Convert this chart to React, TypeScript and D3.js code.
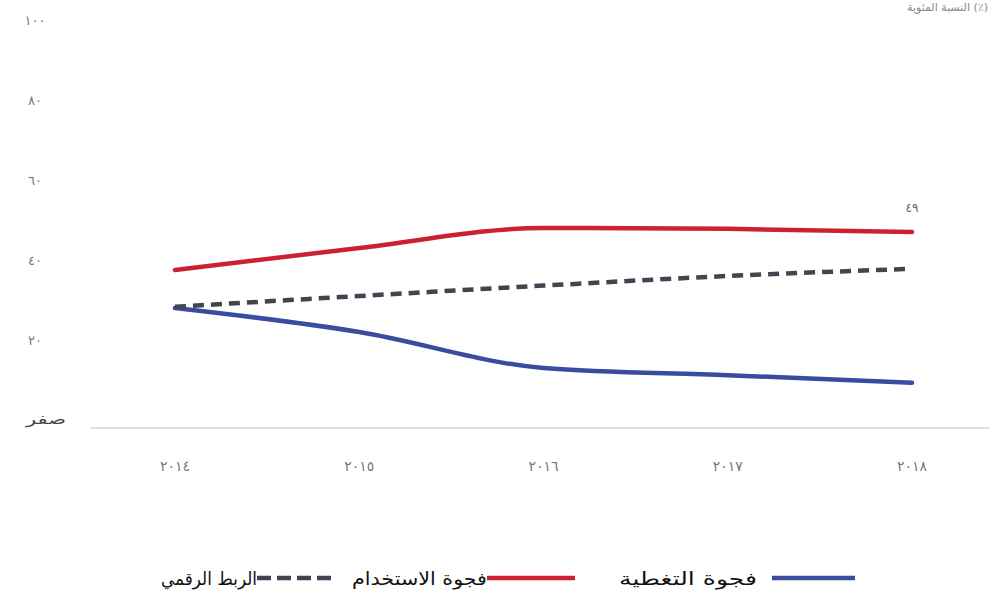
import React from "react";
import * as d3 from "d3";

const years = ["٢٠١٤", "٢٠١٥", "٢٠١٦", "٢٠١٧", "٢٠١٨"];
const yTicks = [0, 20, 40, 60, 80, 100];
const yTickLabels = ["صفر", "٢٠", "٤٠", "٦٠", "٨٠", "١٠٠"];
const coverageGap = [30, 24, 15, 13.2, 11.3];
const usageGap = [39.5, 45, 50, 49.8, 49];
const digitalLink = [30.3, 33, 35.6, 38, 39.8];
const seriesNames = ["فجوة التغطية", "فجوة الاستخدام", "الربط الرقمي"];
const endLabel = "٤٩";
const unitLabel = "النسبة المئوية (٪)";

const W = 995;
const H = 597;

export default function App() {
  const x = d3.scalePoint<string>().domain(years).range([175, 912]);
  const y = d3.scaleLinear().domain([0, 100]).range([428, 28]);
  const line = d3
    .line<number>()
    .x((_, i) => x(years[i]) as number)
    .y((d) => y(d))
    .curve(d3.curveMonotoneX);

  const font = "'DejaVu Sans', sans-serif";
  const series = [
    { name: seriesNames[0], data: coverageGap, color: "#3b4c9e", dash: undefined },
    { name: seriesNames[1], data: usageGap, color: "#cc2230", dash: undefined },
    { name: seriesNames[2], data: digitalLink, color: "#404552", dash: "11 7" },
  ];
  const legend = [
    { lineX: [772, 855], textX: 757, textW: 138 },
    { lineX: [487, 575], textX: 487, textW: 135 },
    { lineX: [257, 332], textX: 257, textW: 96 },
  ];

  return (
    <div style={{ position: "absolute", left: 0, top: 0 }}>
      <svg width={W} height={H} style={{ display: "block", background: "#fff" }}>
        <text x={988} y={11} textAnchor="end" fontFamily={font} fontSize={11} fill="#888">
          {unitLabel}
        </text>
        {yTicks.map((t, i) =>
          t === 0 ? (
            <text
              key={t}
              x={26}
              y={y(t) - 4}
              textAnchor="start"
              fontFamily={font}
              fontSize={14}
              fill="#444"
              textLength={40}
              lengthAdjust="spacingAndGlyphs"
            >
              {yTickLabels[i]}
            </text>
          ) : (
            <text
              key={t}
              x={35}
              y={y(t) - 3}
              textAnchor="middle"
              fontFamily={font}
              fontSize={13}
              letterSpacing={3}
              fill="#777"
            >
              {yTickLabels[i]}
            </text>
          )
        )}
        <line x1={90} x2={990} y1={y(0)} y2={y(0)} stroke="#d6d6d6" strokeWidth={1.5} />
        {years.map((yr) => (
          <text
            key={yr}
            x={x(yr)}
            y={471}
            textAnchor="middle"
            fontFamily={font}
            fontSize={14}
            letterSpacing={2.5}
            fill="#777"
          >
            {yr}
          </text>
        ))}
        {series.map((s) => (
          <path
            key={s.name}
            d={line(s.data) || ""}
            fill="none"
            stroke={s.color}
            strokeWidth={4.5}
            strokeDasharray={s.dash}
            strokeLinecap={s.dash ? "butt" : "round"}
          />
        ))}
        <text
          x={x(years[4])}
          y={y(usageGap[4]) - 20}
          textAnchor="middle"
          fontFamily={font}
          fontSize={12}
          letterSpacing={2}
          fill="#666"
        >
          {endLabel}
        </text>
        {series.map((s, i) => (
          <g key={"lg" + i}>
            <line
              x1={legend[i].lineX[0]}
              x2={legend[i].lineX[1]}
              y1={578}
              y2={578}
              stroke={s.color}
              strokeWidth={4.5}
              strokeDasharray={s.dash ? "14 6" : undefined}
            />
            <text
              x={legend[i].textX - legend[i].textW}
              y={585}
              textAnchor="start"
              fontFamily={font}
              fontSize={18}
              fill="#111"
              textLength={legend[i].textW}
              lengthAdjust="spacingAndGlyphs"
            >
              {s.name}
            </text>
          </g>
        ))}
      </svg>
    </div>
  );
}
